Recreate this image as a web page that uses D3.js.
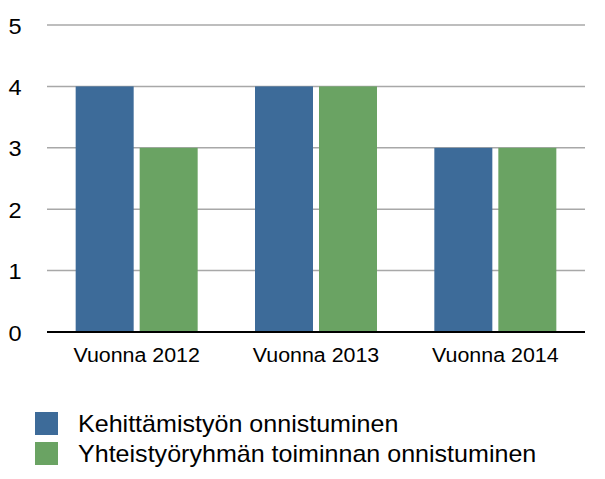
<!DOCTYPE html>
<html><head><meta charset="utf-8">
<script src="https://cdn.jsdelivr.net/npm/d3@7"></script>
<style>body{margin:0;background:#fff}svg{display:block;font-family:"Liberation Sans",Arial,Helvetica,sans-serif}</style>
</head><body>
<svg id="c" width="605" height="479"></svg>
<script>
const categories = ["Vuonna 2012", "Vuonna 2013", "Vuonna 2014"];
const seriesNames = ["Kehittämistyön onnistuminen", "Yhteistyöryhmän toiminnan onnistuminen"];
const series1 = [4, 4, 3];
const series2 = [3, 4, 3];
const yTicks = [0, 1, 2, 3, 4, 5];
const colors = ["#3d6b99", "#6aa363"];

(function () {
const svg = d3.select("#c");
const mLeft = 47, mRight = 585, mTop = 25, mBottom = 332;
const x = d3.scaleBand().domain(categories).range([mLeft, mRight]).paddingInner(0).paddingOuter(0);
const y = d3.scaleLinear().domain([0, 5]).range([mBottom, mTop]);
const barW = 58, gap = 6;

svg.append("g").selectAll("line").data(yTicks.filter(d => d > 0)).join("line")
  .attr("x1", mLeft).attr("x2", mRight)
  .attr("y1", d => y(d)).attr("y2", d => y(d))
  .attr("stroke", "#a8a8a8").attr("stroke-width", 1.5);

svg.append("g").selectAll("text").data(yTicks).join("text")
  .attr("transform", d => `translate(15,${y(d) + 8.5}) scale(1.07,1)`)
  .attr("text-anchor", "middle").attr("font-size", 22).attr("fill", "#000")
  .text(d => d);

const data = [series1, series2];
data.forEach((s, si) => {
  svg.append("g").selectAll("rect").data(s).join("rect")
    .attr("x", (d, i) => x(categories[i]) + x.bandwidth() / 2 + (si === 0 ? -gap / 2 - barW : gap / 2))
    .attr("width", barW)
    .attr("y", d => y(d))
    .attr("height", d => y(0) - y(d))
    .attr("fill", colors[si]);
});

svg.append("line").attr("x1", mLeft).attr("x2", mRight).attr("y1", y(0)).attr("y2", y(0))
  .attr("stroke", "#000").attr("stroke-width", 2);

svg.append("g").selectAll("text").data(categories).join("text")
  .attr("transform", d => `translate(${x(d) + x.bandwidth() / 2},362) scale(1.07,1)`)
  .attr("text-anchor", "middle").attr("font-size", 20).attr("fill", "#000")
  .text(d => d);

const lg = svg.append("g");
seriesNames.forEach((n, i) => {
  lg.append("rect").attr("x", 35).attr("y", 412 + i * 30).attr("width", 23).attr("height", 23).attr("fill", colors[i]);
  lg.append("text").attr("transform", `translate(78,${432 + i * 30}) scale(1.09,1)`)
    .attr("font-size", 23).attr("fill", "#000").text(n);
});
})();
</script>
</body></html>
